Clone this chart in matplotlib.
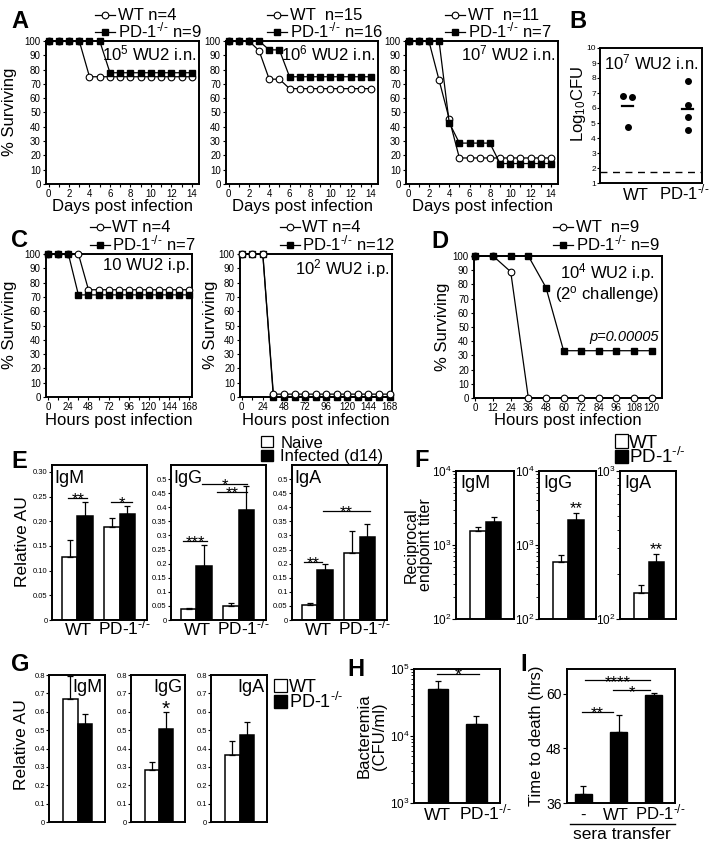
import matplotlib
matplotlib.use('Agg')
import matplotlib.pyplot as plt
import numpy as np
from matplotlib.lines import Line2D
from matplotlib.patches import Patch
from matplotlib.ticker import MultipleLocator, NullFormatter, LogLocator

plt.rcParams['font.family'] = ['Liberation Sans', 'DejaVu Sans']
plt.rcParams['mathtext.fontset'] = 'custom'
plt.rcParams['mathtext.rm'] = 'Liberation Sans'
plt.rcParams['mathtext.it'] = 'Liberation Sans:italic'
plt.rcParams['mathtext.bf'] = 'Liberation Sans:bold'

KO = "PD-1$^{\u2010/\u2010}$"

# ---------------- data ----------------
days = [0, 1, 2, 3, 4, 5, 6, 7, 8, 9, 10, 11, 12, 13, 14]
A1_wt = [100, 100, 100, 100, 75, 75, 75, 75, 75, 75, 75, 75, 75, 75, 75]
A1_pd = [100, 100, 100, 100, 100, 100, 77.8, 77.8, 77.8, 77.8, 77.8, 77.8, 77.8, 77.8, 77.8]
A2_wt = [100, 100, 100, 93.3, 73.3, 73.3, 66.7, 66.7, 66.7, 66.7, 66.7, 66.7, 66.7, 66.7, 66.7]
A2_pd = [100, 100, 100, 100, 93.8, 93.8, 75, 75, 75, 75, 75, 75, 75, 75, 75]
A3_wt = [100, 100, 100, 72.7, 45.5, 18.2, 18.2, 18.2, 18.2, 18.2, 18.2, 18.2, 18.2, 18.2, 18.2]
A3_pd = [100, 100, 100, 100, 42.9, 28.6, 28.6, 28.6, 28.6, 14.3, 14.3, 14.3, 14.3, 14.3, 14.3]
A_legends = [("WT n=4", KO + " n=9"), ("WT  n=15", KO + " n=16"),
             ("WT  n=11", KO + " n=7")]
A_titles = ["10$^5$ WU2 i.n.", "10$^6$ WU2 i.n.", "10$^7$ WU2 i.n."]

B_groups = ["WT", KO]
B_wt = [6.8, 6.7, 4.7]
B_pd = [7.8, 6.2, 5.4, 4.5]
B_means = [6.15, 5.95]
B_limit = 1.7

hoursC = [0, 12, 24, 36, 48, 60, 72, 84, 96, 108, 120, 132, 144, 156, 168]
C1_wt = [100, 100, 100, 100, 75, 75, 75, 75, 75, 75, 75, 75, 75, 75, 75]
C1_pd = [100, 100, 100, 71.4, 71.4, 71.4, 71.4, 71.4, 71.4, 71.4, 71.4, 71.4, 71.4, 71.4, 71.4]
C2_wt = [100, 100, 100, 2, 2, 2, 2, 2, 2, 2, 2, 2, 2, 2, 2]
C2_pd = [100, 100, 100, 0, 0, 0, 0, 0, 0, 0, 0, 0, 0, 0, 0]
C_legends = [("WT n=4", KO + " n=7"), ("WT n=4", KO + " n=12")]
C_titles = ["10 WU2 i.p.", "10$^2$ WU2 i.p."]

hoursD = [0, 12, 24, 36, 48, 60, 72, 84, 96, 108, 120]
D_wt = [100, 100, 88.9, 0, 0, 0, 0, 0, 0, 0, 0]
D_pd = [100, 100, 100, 100, 77.8, 33.3, 33.3, 33.3, 33.3, 33.3, 33.3]
D_legend = ("WT  n=9", KO + " n=9")

E_groups = ["WT", KO]
E_IgM_naive = [0.128, 0.188]; E_IgM_naive_err = [0.034, 0.018]
E_IgM_inf = [0.211, 0.214];   E_IgM_inf_err = [0.029, 0.016]
E_IgG_naive = [0.038, 0.051]; E_IgG_naive_err = [0.006, 0.008]
E_IgG_inf = [0.193, 0.389];   E_IgG_inf_err = [0.073, 0.087]
E_IgA_naive = [0.055, 0.236]; E_IgA_naive_err = [0.007, 0.080]
E_IgA_inf = [0.176, 0.296];   E_IgA_inf_err = [0.022, 0.044]

F_IgM = [1560, 2040]; F_IgM_top = [1770, 2410]
F_IgG = [594, 2180];  F_IgG_top = [724, 2730]
F_IgA = [149, 242];   F_IgA_top = [170, 275]

G_IgM = [0.672, 0.532]; G_IgM_err = [0.121, 0.054]
G_IgG = [0.281, 0.508]; G_IgG_err = [0.046, 0.091]
G_IgA = [0.367, 0.476]; G_IgA_err = [0.072, 0.068]

H_groups = ["WT", KO]
H_vals = [49700, 15100]; H_top = [66000, 19900]

I_groups = ["-", "WT", KO]
I_vals = [38.0, 51.6, 59.8]; I_err = [1.8, 3.8, 0.4]

# ---------------- helpers ----------------
W, Hh = 714, 847
fig = plt.figure(figsize=(W / 100, Hh / 100), dpi=100)


def ax_px(x0, y0, x1, y1):
    return fig.add_axes([x0 / W, 1 - y1 / Hh, (x1 - x0) / W, (y1 - y0) / Hh])


def txt(x, y, s, **kw):
    return fig.text(x / W, 1 - y / Hh, s, **kw)


def spines(ax, lw=1.4):
    for s in ax.spines.values():
        s.set_linewidth(lw)


def surv(ax, x, wt, pd, xlim, wt_top=False):
    zw, zp = (4, 3) if wt_top else (3, 4)
    ax.plot(x, pd, '-', color='k', lw=0.9, marker='s', ms=4.6, mfc='k', mec='k',
            zorder=zp, clip_on=False)
    ax.plot(x, wt, '-', color='k', lw=0.9, marker='o', ms=4.8, mfc='white', mec='k',
            mew=0.8, zorder=zw, clip_on=False)
    ax.set_xlim(*xlim)
    ax.set_ylim(0, 100)
    ax.yaxis.set_major_locator(MultipleLocator(10))
    spines(ax)
    ax.tick_params(which='both', direction='out', length=2.5, width=0.8, labelsize=7, pad=1.2)


WT_H = Line2D([], [], color='k', lw=0.9, marker='o', ms=4.8, mfc='white', mec='k', mew=0.8)
KO_H = Line2D([], [], color='k', lw=0.9, marker='s', ms=4.6, mfc='k', mec='k')


def row_legend(handle, label, x, y, fs=12, hl=1.2, tp=0.15, hh=0.7):
    fig.legend([handle], [label], loc='center left', bbox_to_anchor=(x / W, 1 - y / Hh),
               frameon=False, fontsize=fs, handlelength=hl, handleheight=hh, handletextpad=tp,
               borderpad=0, borderaxespad=0, numpoints=1)


def surv_legend(labels, x, y1, y2):
    row_legend(WT_H, labels[0], x, y1)
    row_legend(KO_H, labels[1], x, y2 - 1.5)


def box_legend(labels, x, y1, y2, fs, tp):
    row_legend(Patch(facecolor='white', edgecolor='k', lw=0.9), labels[0], x, y1, fs=fs, hl=0.7, tp=tp)
    row_legend(Patch(facecolor='k', edgecolor='k'), labels[1], x, y2, fs=fs, hl=0.7, tp=tp)


def sig(ax, x1, x2, y, s, fs=12, off=-4.5):
    ax.plot([x1, x2], [y, y], color='k', lw=0.9, clip_on=False)
    ax.annotate(s, xy=((x1 + x2) / 2, y), xytext=(0, off), textcoords='offset points',
                ha='center', va='baseline', fontsize=fs)


def base_xlabels(ax, pos, labels, fs, pad):
    ax.set_xticks(pos)
    ax.set_xticklabels(labels, fontsize=fs, va='baseline')
    ax.tick_params(axis='x', length=0, pad=pad)


# ---------------- Panel A ----------------
A_boxes = [(46, 41, 199, 184), (226, 41, 378, 184), (406, 41, 558, 184)]
A_data = [(A1_wt, A1_pd), (A2_wt, A2_pd), (A3_wt, A3_pd)]
A_legx = [95, 267, 445]
for i, (bx, (wt, pd)) in enumerate(zip(A_boxes, A_data)):
    ax = ax_px(*bx)
    surv(ax, days, wt, pd, (-0.25, 14.7))
    ax.xaxis.set_major_locator(MultipleLocator(2))
    ax.xaxis.set_minor_locator(MultipleLocator(1))
    surv_legend(A_legends[i], A_legx[i], 16, 32)
    ax.text(0.985, 0.985, A_titles[i], transform=ax.transAxes, ha='right', va='top', fontsize=12)
    txt((bx[0] + bx[2]) / 2, 207, "Days post infection", ha='center', va='center', fontsize=12)
txt(10, 112, "% Surviving", rotation=90, ha='center', va='center', fontsize=12)
txt(11, 28, "A", fontsize=17, fontweight='bold', ha='left', va='baseline')

# ---------------- Panel B ----------------
ax = ax_px(600, 48, 702, 183)
ax.scatter(np.zeros(len(B_wt)) + np.array([-0.08, 0.08, 0.0]), B_wt, s=16, color='k', zorder=3)
ax.scatter(np.ones(len(B_pd)), B_pd, s=16, color='k', zorder=3)
for xi, m in enumerate(B_means):
    ax.plot([xi - 0.09, xi + 0.09], [m, m], color='k', lw=1.6)
ax.axhline(B_limit, color='k', lw=1.0, dashes=(5, 4))
ax.set_xlim(-0.46, 1.24)
ax.set_ylim(1, 10)
ax.yaxis.set_major_locator(MultipleLocator(1))
base_xlabels(ax, [0.13, 0.95], B_groups, 12, 12)
ax.tick_params(axis='y', direction='out', length=2, width=0.8, labelsize=6, pad=1)
spines(ax)
ax.text(0.5, 0.965, "10$^7$ WU2 i.n.", transform=ax.transAxes, ha='center', va='top', fontsize=12)
txt(579, 104, "Log$_{10}$CFU", rotation=90, ha='center', va='center', fontsize=12)
txt(569, 28, "B", fontsize=17, fontweight='bold', ha='left', va='baseline')

# ---------------- Panel C ----------------
C_boxes = [(46, 254, 192, 397), (240, 254, 392, 397)]
C_data = [(C1_wt, C1_pd, False, (-2.7, 171.6)), (C2_wt, C2_pd, True, (-1.9, 170.7))]
C_legx = [90, 280]
C_ylabx = [10, 210]
C_ty = [0.975, 0.975]
for i, (bx, (wt, pd, top, xl)) in enumerate(zip(C_boxes, C_data)):
    ax = ax_px(*bx)
    surv(ax, hoursC, wt, pd, xl, wt_top=top)
    ax.xaxis.set_major_locator(MultipleLocator(24))
    ax.xaxis.set_minor_locator(MultipleLocator(12))
    surv_legend(C_legends[i], C_legx[i], 228, 245)
    ax.text(0.985, C_ty[i], C_titles[i], transform=ax.transAxes, ha='right', va='top', fontsize=12)
    txt((bx[0] + bx[2]) / 2, 420, "Hours post infection", ha='center', va='center', fontsize=12)
    txt(C_ylabx[i], 325, "% Surviving", rotation=90, ha='center', va='center', fontsize=12)
txt(11, 247, "C", fontsize=17, fontweight='bold', ha='left', va='baseline')

# ---------------- Panel D ----------------
ax = ax_px(474, 256, 662, 398)
surv(ax, hoursD, D_wt, D_pd, (-1, 127))
ax.xaxis.set_major_locator(MultipleLocator(12))
surv_legend(D_legend, 553, 228, 245)
ax.text(0.71, 0.965, "10$^4$ WU2 i.p.\n(2$^{\\mathrm{o}}$ challenge)", transform=ax.transAxes,
        ha='center', va='top', fontsize=12, linespacing=1.0)
ax.text(0.985, 0.43, "p=0.00005", transform=ax.transAxes, ha='right', va='center',
        fontsize=10.5, style='italic')
txt(568, 420, "Hours post infection", ha='center', va='center', fontsize=12)
txt(443, 327, "% Surviving", rotation=90, ha='center', va='center', fontsize=12)
txt(431, 248, "D", fontsize=17, fontweight='bold', ha='left', va='baseline')

# ---------------- Panel E ----------------
E_boxes = [(52, 465, 147, 620), (171, 465, 266, 620), (292, 465, 387, 620)]
E_sets = [
    ("IgM", E_IgM_naive, E_IgM_naive_err, E_IgM_inf, E_IgM_inf_err, 0.314,
     [0, 0.05, 0.10, 0.15, 0.20, 0.25, 0.30], ["0", "0.05", "0.10", "0.15", "0.20", "0.25", "0.30"]),
    ("IgG", E_IgG_naive, E_IgG_naive_err, E_IgG_inf, E_IgG_inf_err, 0.55,
     [0, 0.05, 0.1, 0.15, 0.2, 0.25, 0.3, 0.35, 0.4, 0.45, 0.5],
     ["0", "0.05", "0.1", "0.15", "0.2", "0.25", "0.3", "0.35", "0.4", "0.45", "0.5"]),
    ("IgA", E_IgA_naive, E_IgA_naive_err, E_IgA_inf, E_IgA_inf_err, 0.55,
     [0, 0.05, 0.1, 0.15, 0.2, 0.25, 0.3, 0.35, 0.4, 0.45, 0.5],
     ["0", "0.05", "0.1", "0.15", "0.2", "0.25", "0.3", "0.35", "0.4", "0.45", "0.5"]),
]
w = 0.365
E_axes = []
for bx, (name, nv, ne, iv, ie, ytop, yt, ytl) in zip(E_boxes, E_sets):
    ax = ax_px(*bx)
    x = np.arange(2)
    ekw = dict(lw=0.9, capthick=0.9)
    ax.bar(x - w / 2, nv, w, color='white', edgecolor='k', lw=1.1,
           yerr=[np.zeros(2), ne], capsize=2, error_kw=ekw)
    ax.bar(x + w / 2, iv, w, color='k', edgecolor='k', lw=1.1,
           yerr=[np.zeros(2), ie], capsize=2, error_kw=ekw)
    ax.set_xlim(-0.6, 1.65)
    ax.set_ylim(0, ytop)
    ax.set_yticks(yt)
    ax.set_yticklabels(ytl)
    base_xlabels(ax, [0.02, 1.12], E_groups, 12.5, 10.5)
    ax.tick_params(axis='y', direction='out', length=2, width=0.8, labelsize=5.5, pad=1)
    spines(ax)
    ax.text(0.03, 0.965, name, transform=ax.transAxes, ha='left', va='top', fontsize=13)
    E_axes.append(ax)
sig(E_axes[0], -0.21, 0.235, 0.247, "**")
sig(E_axes[0], 0.8, 1.3, 0.239, "*")
sig(E_axes[1], -0.31, 0.26, 0.28, "***")
sig(E_axes[1], 0.5, 1.21, 0.453, "**")
sig(E_axes[1], 0.14, 1.21, 0.482, "*")
sig(E_axes[2], -0.31, 0.12, 0.207, "**")
sig(E_axes[2], 0.14, 1.24, 0.388, "**")
txt(23, 542, "Relative AU", rotation=90, ha='center', va='center', fontsize=12.5)
box_legend(["Naive", "Infected (d14)"], 261, 443, 457, 12, 0.45)
txt(11, 468, "E", fontsize=17, fontweight='bold', ha='left', va='baseline')

# ---------------- Panel F ----------------
F_boxes = [(456, 471, 514, 619), (539, 471, 596, 619), (620, 471, 676, 619)]
F_sets = [("IgM", F_IgM, F_IgM_top, 1e4, None), ("IgG", F_IgG, F_IgG_top, 1e4, "**"),
          ("IgA", F_IgA, F_IgA_top, 1e3, "**")]
for bx, (name, v, top, ymax, star) in zip(F_boxes, F_sets):
    ax = ax_px(*bx)
    ax.set_yscale('log')
    err = np.array(top) - np.array(v)
    ax.bar([0, 1], v, 1.0, color=['white', 'k'], edgecolor='k', lw=1.1,
           yerr=[np.zeros(2), err], capsize=2, error_kw=dict(lw=0.9, capthick=0.9))
    ax.set_xlim(-1.4, 2.3)
    ax.set_ylim(1e2, ymax)
    ax.yaxis.set_major_locator(LogLocator(base=10))
    ax.yaxis.set_minor_locator(LogLocator(base=10, subs=np.arange(2, 10)))
    ax.yaxis.set_minor_formatter(NullFormatter())
    ax.set_xticks([])
    ax.tick_params(axis='y', which='major', direction='out', length=3, width=0.8, labelsize=8.5, pad=0.5)
    ax.tick_params(axis='y', which='minor', direction='out', length=2, width=0.6)
    spines(ax)
    ax.text(0.08, 0.975, name, transform=ax.transAxes, ha='left', va='top', fontsize=13)
    if star:
        ax.annotate(star, xy=(1, top[1]), xytext=(0, 0), textcoords='offset points',
                    ha='center', va='baseline', fontsize=12)
txt(418, 545, "Reciprocal\nendpoint titer", rotation=90, ha='center', va='center', fontsize=11.5,
    linespacing=0.95)
box_legend(["WT", KO], 615, 443, 457, 13.5, 0.05)
txt(414, 467, "F", fontsize=17, fontweight='bold', ha='left', va='baseline')

# ---------------- Panel G ----------------
G_boxes = [(49, 675, 105, 822), (131, 675, 185, 822), (211, 675, 267, 822)]
G_sets = [("IgM", G_IgM, G_IgM_err, None), ("IgG", G_IgG, G_IgG_err, "*"), ("IgA", G_IgA, G_IgA_err, None)]
for bx, (name, v, e, star) in zip(G_boxes, G_sets):
    ax = ax_px(*bx)
    ax.bar([0, 1], v, 1.0, color=['white', 'k'], edgecolor='k', lw=1.1,
           yerr=[np.zeros(2), e], capsize=2, error_kw=dict(lw=0.9, capthick=0.9))
    ax.set_xlim(-1.45, 2.35)
    ax.set_ylim(0, 0.8)
    ax.set_yticks([0, 0.1, 0.2, 0.3, 0.4, 0.5, 0.6, 0.7, 0.8])
    ax.set_yticklabels(["0", "0.1", "0.2", "0.3", "0.4", "0.5", "0.6", "0.7", "0.8"])
    ax.set_xticks([])
    ax.tick_params(axis='y', direction='out', length=2, width=0.8, labelsize=5.5, pad=1)
    spines(ax)
    ax.text(0.96, 0.975, name, transform=ax.transAxes, ha='right', va='top', fontsize=13)
    if star:
        ax.annotate(star, xy=(1, v[1] + e[1]), xytext=(0, -2), textcoords='offset points',
                    ha='center', va='baseline', fontsize=15)
txt(22, 745, "Relative AU", rotation=90, ha='center', va='center', fontsize=12.5)
box_legend(["WT", KO], 274, 687, 702, 13, 0.15)
txt(11, 671, "G", fontsize=17, fontweight='bold', ha='left', va='baseline')

# ---------------- Panel H ----------------
ax = ax_px(414, 669, 500, 803)
ax.set_yscale('log')
ax.bar([0, 1], H_vals, 0.52, color='k', edgecolor='k',
       yerr=[np.zeros(2), np.array(H_top) - np.array(H_vals)], capsize=2.5,
       error_kw=dict(lw=0.9, capthick=0.9))
ax.set_xlim(-0.62, 1.61)
ax.set_ylim(1e3, 1e5)
ax.yaxis.set_major_locator(LogLocator(base=10))
ax.yaxis.set_minor_locator(LogLocator(base=10, subs=np.arange(2, 10)))
ax.yaxis.set_minor_formatter(NullFormatter())
base_xlabels(ax, [0, 1.22], H_groups, 12.5, 12)
ax.tick_params(axis='y', which='major', direction='out', length=3, width=0.8, labelsize=8.5, pad=0.5)
ax.tick_params(axis='y', which='minor', direction='out', length=2, width=0.6)
spines(ax)
sig(ax, -0.03, 1.06, 8.4e4, "*", fs=13)
txt(372, 736, "Bacteremia\n(CFU/ml)", rotation=90, ha='center', va='center', fontsize=12,
    linespacing=1.0)
txt(347, 676, "H", fontsize=17, fontweight='bold', ha='left', va='baseline')

# ---------------- Panel I ----------------
ax = ax_px(567, 669, 675, 803)
ax.bar([0, 1, 2], I_vals, 0.5, color='k', edgecolor='k',
       yerr=[np.zeros(3), I_err], capsize=2.5, error_kw=dict(lw=0.9, capthick=0.9))
ax.set_xlim(-0.47, 2.61)
ax.set_ylim(36, 65.4)
ax.set_yticks([36, 48, 60])
base_xlabels(ax, [0, 0.92, 2.2], I_groups, 12, 12)
ax.tick_params(axis='y', direction='out', length=3, width=0.8, labelsize=10, pad=1)
spines(ax)
sig(ax, -0.05, 0.85, 55.9, "**")
sig(ax, 0.85, 1.9, 60.7, "*")
sig(ax, 0.05, 1.9, 62.9, "****")
fig.add_artist(Line2D([570 / W, 675 / W], [1 - 824 / Hh, 1 - 824 / Hh], color='k', lw=1.0))
txt(622, 834, "sera transfer", ha='center', va='center', fontsize=12.5)
txt(537, 736, "Time to death (hrs)", rotation=90, ha='center', va='center', fontsize=12)
txt(520, 671, "I", fontsize=17, fontweight='bold', ha='left', va='baseline')

fig.savefig("out.png", dpi=100)
